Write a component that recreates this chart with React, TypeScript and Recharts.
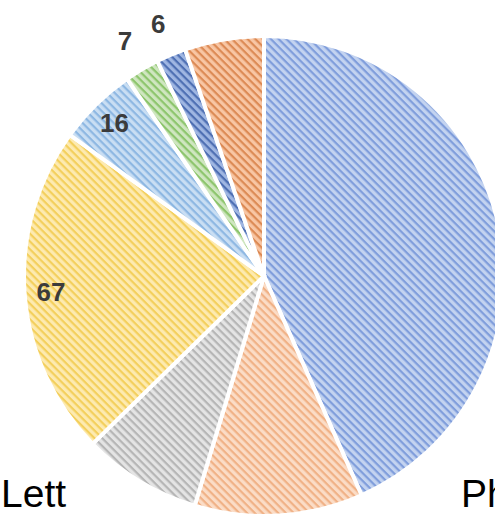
import { PieChart, Pie, Cell } from "recharts"

const categories = ["A", "B", "C", "D", "E", "F", "G", "H"]
const values = [130, 34, 24, 67, 16, 7, 6, 16]
const showValue = [false, false, false, true, true, true, true, false]
const legendLabels = ["Lett", "Ph"]

const fills = [
    { bg: "#c3d3f0", line: "#7f9ddb" },
    { bg: "#fbdcc6", line: "#f0b186" },
    { bg: "#e4e4e4", line: "#b5b5b5" },
    { bg: "#fdeab0", line: "#f3cf5c" },
    { bg: "#c9def3", line: "#8db7e2" },
    { bg: "#cfe6c0", line: "#8cc56c" },
    { bg: "#9fb6e2", line: "#4e6fb3" },
    { bg: "#f8c6a4", line: "#dc8a55" },
]

const data = categories.map((name, i) => ({ name, value: values[i] }))

const RADIAN = Math.PI / 180

// small slices get their value outside the rim, the rest inside
function renderLabel(props: any) {
    const { cx, cy, midAngle, outerRadius, index, value } = props
    if (!showValue[index]) return null
    const r = value < 10 ? outerRadius + 33 : outerRadius * 0.89
    const x = cx + r * Math.cos(-midAngle * RADIAN)
    const y = cy + r * Math.sin(-midAngle * RADIAN)
    return (
        <text
            x={x}
            y={y}
            textAnchor="middle"
            dominantBaseline="central"
            fill="#3b3b3b"
            fontSize={26}
            fontWeight="bold"
            fontFamily="Liberation Sans, Arial, sans-serif"
        >
            {value}
        </text>
    )
}

export default function App() {
    return (
        <div
            style={{
                position: "relative",
                width: 495,
                height: 516,
                overflow: "hidden",
                background: "#fff",
            }}
        >
            <style>{`body{margin:0}`}</style>
            <PieChart width={495} height={516}>
                <defs>
                    {fills.map((f, i) => (
                        <pattern
                            key={i}
                            id={`hatch-${i}`}
                            width={5.5}
                            height={5.5}
                            patternUnits="userSpaceOnUse"
                            patternTransform="rotate(45)"
                        >
                            <rect width={5.5} height={5.5} fill={f.bg} />
                            <rect width={5.5} height={2.2} fill={f.line} />
                        </pattern>
                    ))}
                </defs>
                <Pie
                    data={data}
                    dataKey="value"
                    nameKey="name"
                    cx={259}
                    cy={271}
                    outerRadius={240}
                    startAngle={90}
                    endAngle={-270}
                    stroke="#ffffff"
                    strokeWidth={4}
                    label={renderLabel}
                    labelLine={false}
                    isAnimationActive={false}
                >
                    {data.map((d, i) => (
                        <Cell key={d.name} fill={`url(#hatch-${i})`} />
                    ))}
                </Pie>
            </PieChart>
            <div
                style={{
                    position: "absolute",
                    left: 1,
                    top: 472,
                    fontFamily: "Liberation Sans, Arial, sans-serif",
                    fontSize: 39,
                    color: "#000",
                }}
            >
                {legendLabels[0]}
            </div>
            <div
                style={{
                    position: "absolute",
                    left: 461,
                    top: 472,
                    fontFamily: "Liberation Sans, Arial, sans-serif",
                    fontSize: 39,
                    color: "#000",
                    whiteSpace: "nowrap",
                }}
            >
                {legendLabels[1]}
            </div>
        </div>
    )
}
